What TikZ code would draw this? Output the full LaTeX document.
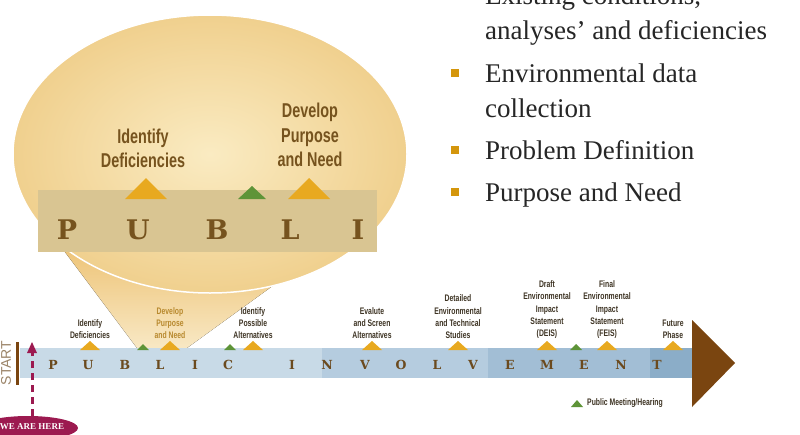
\documentclass[tikz,border=0pt]{standalone}
\usepackage{fontspec}
\setmainfont{Liberation Serif}
\newfontfamily\condfont[FakeStretch=0.72]{Liberation Sans}
\newfontfamily\slabfont{DejaVu Serif}
\newfontfamily\plainsans{Liberation Sans}
\usetikzlibrary{arrows.meta,shapes.geometric}
\definecolor{bubin}{HTML}{FAEBC2}
\definecolor{bubout}{HTML}{F0D08E}
\definecolor{band}{HTML}{D9C592}
\definecolor{conetop}{HTML}{EDC171}
\definecolor{conebot}{HTML}{F8E8C4}
\definecolor{segA}{HTML}{C8DAE7}
\definecolor{segB}{HTML}{B5CCDF}
\definecolor{segC}{HTML}{A2BED5}
\definecolor{segD}{HTML}{8BADC8}
\definecolor{ora}{HTML}{E8A920}
\definecolor{grn}{HTML}{5E9438}
\definecolor{arrbrown}{HTML}{7A4510}
\definecolor{letbrown}{HTML}{6B4A1E}
\definecolor{bigbrown}{HTML}{76531E}
\definecolor{labdark}{HTML}{3E3424}
\definecolor{labgold}{HTML}{B8892E}
\definecolor{maroon}{HTML}{9C1A50}
\definecolor{startc}{HTML}{9B8468}
\definecolor{bullet}{HTML}{D4960C}
\definecolor{txt}{HTML}{262626}
\tikzset{
  lab/.style={font=\condfont\bfseries\fontsize{9.5}{12.3}\selectfont, text=labdark, align=center, inner sep=0pt, anchor=south},
  biglab/.style={font=\condfont\bfseries\fontsize{20}{24.5}\selectfont, text=bigbrown, align=center, inner sep=0pt, anchor=south},
  barlet/.style={font=\slabfont\bfseries\fontsize{12.5}{14}\selectfont, text=letbrown, inner sep=0pt},
  biglet/.style={font=\slabfont\bfseries\fontsize{27}{30}\selectfont, text=bigbrown, inner sep=0pt},
  bul/.style={font=\fontsize{27}{32}\selectfont, text=txt, anchor=base west, inner sep=0pt},
  bsq/.style={fill=bullet, minimum size=8pt, inner sep=0pt},
}
\newcommand\otri[1]{\fill[ora] (#1-10,350) -- (#1,341) -- (#1+10,350) -- cycle;}
\newcommand\gtri[1]{\fill[grn] (#1-6,350) -- (#1,344) -- (#1+6,350) -- cycle;}
\begin{document}
\begin{tikzpicture}[x=1pt,y=-1pt]
\clip (0,0) rectangle (800,434);
\fill[white] (0,0) rectangle (800,434);
% cone
\fill[top color=conetop, bottom color=conebot] (56,240) -- (137,348) -- (187,348) -- (278,282) -- (210,250) -- cycle;
% bubble
\draw[white, line width=1.5pt, inner color=bubin, outer color=bubout] (210,154) ellipse [x radius=197, y radius=139];
\fill[band] (38,190) rectangle (377,252);
\fill[ora] (125,199) -- (146,178) -- (167,199) -- cycle;
\fill[ora] (288,199) -- (309,178) -- (330,199) -- cycle;
\fill[grn] (238,199) -- (252,186) -- (266,199) -- cycle;
\node[biglab] (bl1) at (143,168) {Identify\\Deficiencies};
\node[biglab] (bl2) at (310,167) {Develop\\Purpose\\and Need};
\foreach \x/\l [count=\i] in {67/P,138/U,217/B,290/L,358/I}
  \node[biglet] (bg\i) at (\x,230) {\l};
% bar
\fill[segA] (20,348) rectangle (322,378);
\fill[segB] (322,348) rectangle (488,378);
\fill[segC] (488,348) rectangle (650,378);
\fill[segD] (650,348) rectangle (692,378);
\fill[arrbrown] (692,320) -- (735,363) -- (692,407) -- cycle;
\foreach \x/\l [count=\i] in {53/P,88/U,125/B,160/L,195/I,228/C,292/I,327/N,365/V,401/O,437/L,473/V,510/E,547/M,584/E,621/N,657/T}
  \node[barlet] (bt\i) at (\x,365) {\l};
% milestones
\otri{90}\otri{170}\otri{253}\otri{372}\otri{458}\otri{547}\otri{607}\otri{673}
\gtri{143}\gtri{230}\gtri{576}
\node[lab] (s1) at (90,339) {Identify\\Deficiencies};
\node[lab, text=labgold] (s2) at (170,339) {Develop\\Purpose\\and Need};
\node[lab] (s3) at (253,339) {Identify\\Possible\\Alternatives};
\node[lab] (s4) at (372,339) {Evalute\\and Screen\\Alternatives};
\node[lab] (s5) at (458,339) {Detailed\\Environmental\\and Technical\\Studies};
\node[lab] (s6) at (547,339) {Draft\\Environmental\\Impact\\Statement\\(DEIS)};
\node[lab] (s7) at (607,339) {Final\\Environmental\\Impact\\Statement\\(FEIS)};
\node[lab] (s8) at (673,339) {Future\\Phase};
% legend
\fill[grn] (571,407) -- (577,400) -- (583,407) -- cycle;
\node[lab, anchor=west] (leg) at (587,403) {Public Meeting/Hearing};
% start
\fill[arrbrown] (15.5,342) rectangle (18.5,385);
\node[font=\plainsans\fontsize{14}{16}\selectfont, text=startc, rotate=90, inner sep=0pt] (st) at (6,363) {START};
\node[ellipse, fill=maroon, minimum width=100pt, minimum height=24pt, inner sep=0pt] (here) at (28,428) {};
\node[font=\bfseries\fontsize{9}{10}\selectfont, text=white, inner sep=0pt] (heret) at (32,427) {WE ARE HERE};
\draw[maroon, line width=3pt, dash pattern=on 7pt off 5pt] (32,416) -- (32,352);
\fill[maroon] (27,353) -- (32,342) -- (37,353) -- cycle;
% bullet text
\node[bul] (t0) at (485,4) {Existing conditions,};
\node[bul] (t1) at (485,39) {analyses’ and deficiencies};
\node[bsq] (q2) at (455,73) {};
\node[bul] (t2) at (485,82) {Environmental data};
\node[bul] (t2b) at (485,117) {collection};
\node[bsq] (q3) at (455,150) {};
\node[bul] (t3) at (485,159) {Problem Definition};
\node[bsq] (q4) at (455,192) {};
\node[bul] (t4) at (485,201) {Purpose and Need};
\end{tikzpicture}
\end{document}
